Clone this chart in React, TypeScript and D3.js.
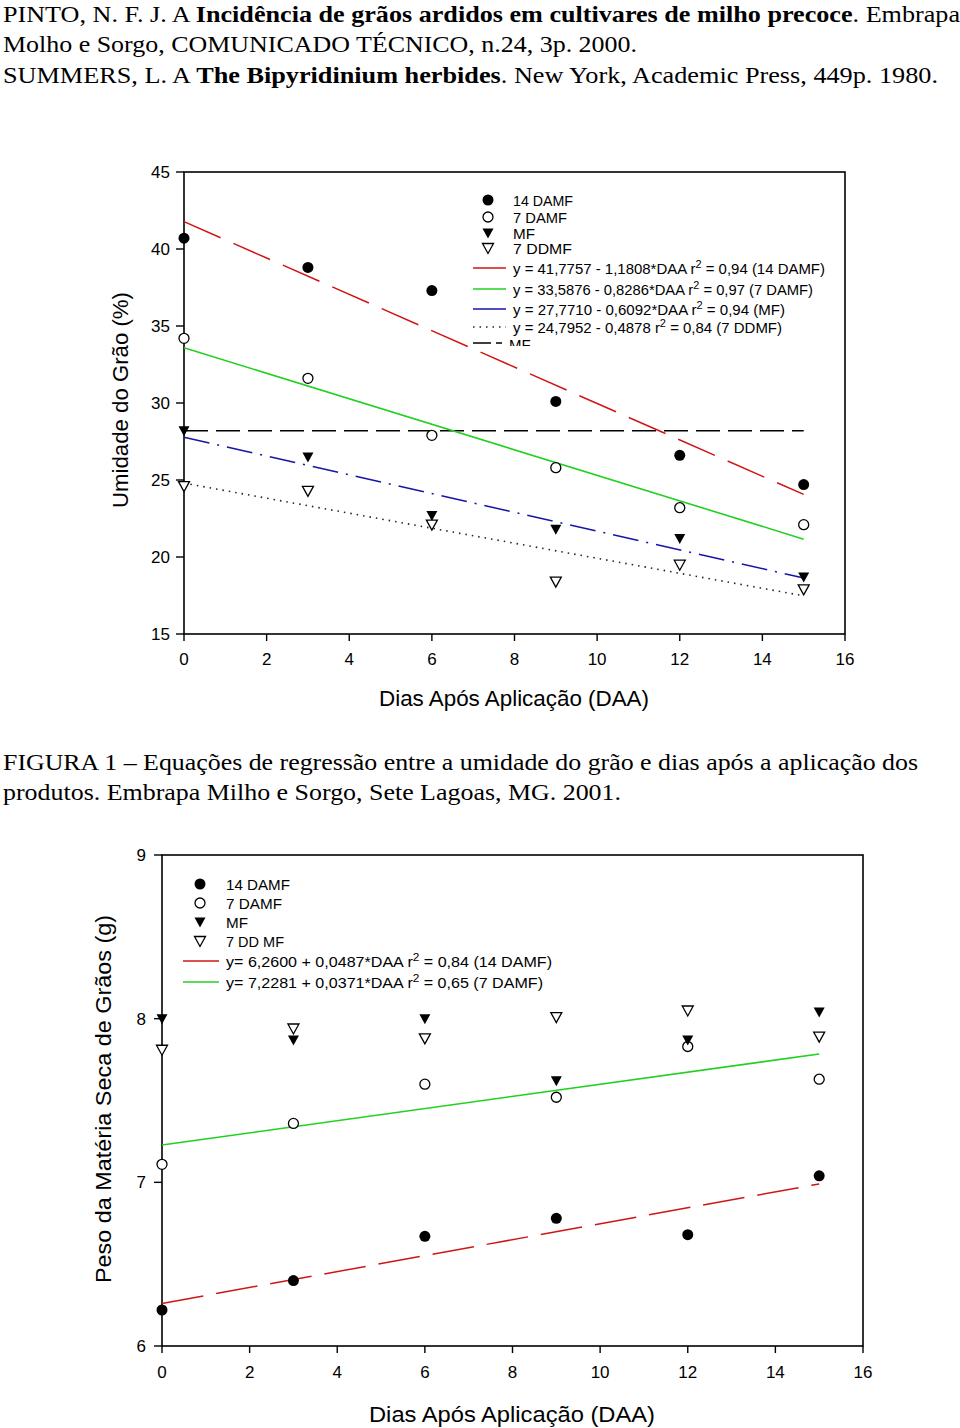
import React from "react";
import * as d3 from "d3";

// ---------- data ----------
const days = [0, 3, 6, 9, 12, 15];
const xTicks = [0, 2, 4, 6, 8, 10, 12, 14, 16];

// Chart 1: Umidade do grão (%)
const umid14DAMF = [40.7, 38.8, 37.3, 30.1, 26.6, 24.7];
const umid7DAMF = [34.2, 31.6, 27.9, 25.8, 23.2, 22.1];
const umidMF = [28.2, 26.5, 22.7, 21.8, 21.2, 18.7];
const umid7DDMF = [24.6, 24.3, 22.1, 18.4, 19.5, 17.9];
const umidMFRef = 28.2;
const umidYTicks = [15, 20, 25, 30, 35, 40, 45];
const umidRegA = [41.7757, 33.5876, 27.771, 24.7952];
const umidRegB = [-1.1808, -0.8286, -0.6092, -0.4878];

// Chart 2: Peso da matéria seca de grãos (g)
const peso14DAMF = [6.22, 6.4, 6.67, 6.78, 6.68, 7.04];
const peso7DAMF = [7.11, 7.36, 7.6, 7.52, 7.83, 7.63];
const pesoMF = [8.0, 7.87, 8.0, 7.62, 7.87, 8.04];
const peso7DDMF = [7.81, 7.94, 7.88, 8.01, 8.05, 7.89];
const pesoYTicks = [6, 7, 8, 9];
const pesoRegA = [6.26, 7.2281];
const pesoRegB = [0.0487, 0.0371];

const legendSeries = ["14 DAMF", "7 DAMF", "MF", "7 DDMF"];
const legendSeries2 = ["14 DAMF", "7 DAMF", "MF", "7 DD MF"];

const SANS = "'Liberation Sans', Arial, sans-serif";
const SERIF = "'Liberation Serif', 'Times New Roman', serif";

const TRI = "M -5.5 -4.5 L 5.5 -4.5 L 0 5.5 Z";

function Marker({ kind, x, y }: { kind: number; x: number; y: number }) {
  if (kind === 0) return <circle cx={x} cy={y} r={5.5} fill="#000" />;
  if (kind === 1) return <circle cx={x} cy={y} r={5} fill="#fff" stroke="#000" strokeWidth={1.3} />;
  if (kind === 2) return <path d={TRI} transform={`translate(${x},${y})`} fill="#000" />;
  return <path d={TRI} transform={`translate(${x},${y})`} fill="#fff" stroke="#000" strokeWidth={1.3} />;
}

function Frame({ x, y, xt, yt }: any) {
  const [x0, x1] = x.range();
  const [y0, y1] = y.range();
  return (
    <g>
      <rect x={x0} y={y1} width={x1 - x0} height={y0 - y1} fill="none" stroke="#000" strokeWidth={1.6} />
      {xt.map((t: number) => (
        <line key={"x" + t} x1={x(t)} x2={x(t)} y1={y0} y2={y0 + 7} stroke="#000" strokeWidth={1.4} />
      ))}
      {yt.map((t: number) => (
        <line key={"y" + t} x1={x0 - 8} x2={x0} y1={y(t)} y2={y(t)} stroke="#000" strokeWidth={1.4} />
      ))}
    </g>
  );
}

function Sup({ pre, post, len, x, y, size }: any) {
  return (
    <text x={x} y={y} fontSize={size} fontFamily={SANS} fill="#000" textLength={len} lengthAdjust="spacingAndGlyphs">
      {pre}r<tspan dy={-6} fontSize={size - 4}>2</tspan>
      <tspan dy={6}>{post}</tspan>
    </text>
  );
}

export default function App() {
  const x1 = d3.scaleLinear().domain([0, 16]).range([184, 845]);
  const y1 = d3.scaleLinear().domain([15, 45]).range([634, 172]);
  const x2 = d3.scaleLinear().domain([0, 16]).range([162, 863]);
  const y2 = d3.scaleLinear().domain([6, 9]).range([1346, 855]);

  const s1 = [umid14DAMF, umid7DAMF, umidMF, umid7DDMF];
  const s2 = [peso14DAMF, peso7DAMF, pesoMF, peso7DDMF];

  const regStyles1 = [
    { stroke: "#d01515", dash: "40 14", w: 1.5 },
    { stroke: "#22d022", dash: "", w: 1.6 },
    { stroke: "#1515a8", dash: "26 8 2 8", w: 1.5 },
    { stroke: "#3a1a1a", dash: "1.5 5", w: 1.6 },
  ];
  const regStyles2 = [
    { stroke: "#d01515", dash: "42 13", w: 1.5 },
    { stroke: "#22d022", dash: "", w: 1.6 },
  ];

  const eq1 = [
    { pre: "y = 41,7757 - 1,1808*DAA  ", post: " = 0,94  (14 DAMF)", len: 312 },
    { pre: "y = 33,5876 - 0,8286*DAA  ", post: " = 0,97  (7 DAMF)", len: 300 },
    { pre: "y = 27,7710 - 0,6092*DAA  ", post: " = 0,94   (MF)", len: 272 },
    { pre: "y = 24,7952 - 0,4878  ", post: " = 0,84   (7 DDMF)", len: 269 },
  ];
  const eq2 = [
    { pre: "y= 6,2600 + 0,0487*DAA  ", post: " = 0,84   (14 DAMF)", len: 326 },
    { pre: "y= 7,2281 + 0,0371*DAA  ", post: " = 0,65   (7 DAMF)", len: 317 },
  ];

  const regPath = (a: number, b: number, x: any, y: any) => {
    const gen = d3.line<number>().x((d) => x(d)).y((d) => y(a + b * d));
    return gen([days[0], days[days.length - 1]]) as string;
  };

  return (
    <svg
      width={960}
      height={1428}
      style={{ position: "absolute", left: 0, top: 0, background: "#fff" }}
    >
      <rect x={0} y={0} width={960} height={1428} fill="#fff" />
      <g fontFamily={SERIF} fontSize={24} fill="#000">
        <text x={3} y={22} textLength={957} lengthAdjust="spacingAndGlyphs">
          PINTO, N. F. J. A{"  "}
          <tspan fontWeight="bold">Incidência de grãos ardidos em cultivares de milho precoce</tspan>. Embrapa
        </text>
        <text x={3} y={52} textLength={634} lengthAdjust="spacingAndGlyphs">
          Molho e Sorgo, COMUNICADO TÉCNICO, n.24, 3p. 2000.
        </text>
        <text x={3} y={83} textLength={935} lengthAdjust="spacingAndGlyphs">
          SUMMERS, L. A{"  "}
          <tspan fontWeight="bold">The Bipyridinium herbides</tspan>. New York, Academic Press, 449p. 1980.
        </text>
        <text x={3} y={770} textLength={915} lengthAdjust="spacingAndGlyphs">
          FIGURA 1 – Equações de regressão entre a umidade do grão e dias após a aplicação dos
        </text>
        <text x={3} y={800} textLength={618} lengthAdjust="spacingAndGlyphs">
          produtos. Embrapa Milho e Sorgo, Sete Lagoas, MG. 2001.
        </text>
      </g>

      {/* ---------------- Chart 1 ---------------- */}
      <Frame x={x1} y={y1} xt={xTicks} yt={umidYTicks} />
      <g fontFamily={SANS} fontSize={17} fill="#000">
        {xTicks.map((t) => (
          <text key={t} x={x1(t)} y={665} textAnchor="middle">{t}</text>
        ))}
        {umidYTicks.map((t) => (
          <text key={t} x={170} y={y1(t) + 6} textAnchor="end">{t}</text>
        ))}
      </g>
      <text x={514} y={706} fontFamily={SANS} fontSize={22} textAnchor="middle" textLength={270} lengthAdjust="spacingAndGlyphs">
        Dias Após Aplicação (DAA)
      </text>
      <text
        transform={`translate(128,400) rotate(-90)`}
        fontFamily={SANS}
        fontSize={22}
        textAnchor="middle"
        textLength={216}
        lengthAdjust="spacingAndGlyphs"
      >
        Umidade do Grão (%)
      </text>
      <line
        x1={x1(days[0])}
        x2={x1(days[days.length - 1])}
        y1={y1(umidMFRef)}
        y2={y1(umidMFRef)}
        stroke="#000"
        strokeWidth={1.5}
        strokeDasharray="24 8"
      />
      {umidRegA.map((a, i) => (
        <path
          key={i}
          d={regPath(a, umidRegB[i], x1, y1)}
          fill="none"
          stroke={regStyles1[i].stroke}
          strokeWidth={regStyles1[i].w}
          strokeDasharray={regStyles1[i].dash}
        />
      ))}
      {s1.map((s, k) =>
        s.map((v, i) => <Marker key={k + "-" + i} kind={k} x={x1(days[i])} y={y1(v)} />)
      )}
      <g>
        {legendSeries.map((name, k) => {
          const yy = [200, 217, 233, 248][k];
          return (
            <g key={name}>
              <Marker kind={k} x={488} y={yy} />
              <text x={513} y={yy + 6} fontFamily={SANS} fontSize={15} textLength={[60, 54, 22, 59][k]} lengthAdjust="spacingAndGlyphs">
                {name}
              </text>
            </g>
          );
        })}
        {eq1.map((e, k) => {
          const yy = [268, 289, 309, 327][k];
          return (
            <g key={k}>
              <line x1={473} x2={506} y1={yy} y2={yy} stroke={regStyles1[k].stroke} strokeWidth={1.5} strokeDasharray={k === 3 ? "1.5 5" : ""} />
              <Sup pre={e.pre} post={e.post} len={e.len} x={513} y={yy + 6} size={15} />
            </g>
          );
        })}
        <clipPath id="mfclip">
          <rect x={460} y={330} width={100} height={16} />
        </clipPath>
        <g clipPath="url(#mfclip)">
          <line x1={473} x2={502} y1={343} y2={343} stroke="#000" strokeWidth={1.5} strokeDasharray="18 5" />
          <text x={509} y={350} fontFamily={SANS} fontSize={15}>MF</text>
        </g>
      </g>

      {/* ---------------- Chart 2 ---------------- */}
      <Frame x={x2} y={y2} xt={xTicks} yt={pesoYTicks} />
      <g fontFamily={SANS} fontSize={17} fill="#000">
        {xTicks.map((t) => (
          <text key={t} x={x2(t)} y={1378} textAnchor="middle">{t}</text>
        ))}
        {pesoYTicks.map((t) => (
          <text key={t} x={146} y={y2(t) + 6} textAnchor="end">{t}</text>
        ))}
      </g>
      <text x={512} y={1422} fontFamily={SANS} fontSize={22} textAnchor="middle" textLength={286} lengthAdjust="spacingAndGlyphs">
        Dias Após Aplicação (DAA)
      </text>
      <text
        transform={`translate(111,1099) rotate(-90)`}
        fontFamily={SANS}
        fontSize={22}
        textAnchor="middle"
        textLength={368}
        lengthAdjust="spacingAndGlyphs"
      >
        Peso da Matéria Seca de Grãos (g)
      </text>
      {pesoRegA.map((a, i) => (
        <path
          key={i}
          d={regPath(a, pesoRegB[i], x2, y2)}
          fill="none"
          stroke={regStyles2[i].stroke}
          strokeWidth={regStyles2[i].w}
          strokeDasharray={regStyles2[i].dash}
        />
      ))}
      {s2.map((s, k) =>
        s.map((v, i) => <Marker key={k + "-" + i} kind={k} x={x2(days[i])} y={y2(v)} />)
      )}
      <g>
        {legendSeries2.map((name, k) => {
          const yy = [884, 903, 922, 941][k];
          return (
            <g key={name}>
              <Marker kind={k} x={200} y={yy} />
              <text x={226} y={yy + 6} fontFamily={SANS} fontSize={15} textLength={[64, 56, 22, 58][k]} lengthAdjust="spacingAndGlyphs">
                {name}
              </text>
            </g>
          );
        })}
        {eq2.map((e, k) => {
          const yy = [961, 982][k];
          return (
            <g key={k}>
              <line x1={183} x2={219} y1={yy} y2={yy} stroke={regStyles2[k].stroke} strokeWidth={1.5} />
              <Sup pre={e.pre} post={e.post} len={e.len} x={226} y={yy + 6} size={15} />
            </g>
          );
        })}
      </g>
    </svg>
  );
}
